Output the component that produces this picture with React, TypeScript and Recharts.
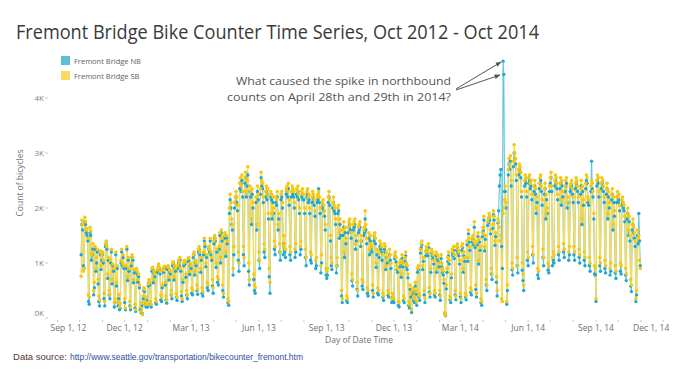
import { LineChart, Line, XAxis, YAxis } from "recharts";

// first day of each block of daily counts
const BLOCK_STARTS = [
  "2012-10-03", "2012-11-01", "2012-12-01", "2013-01-01", "2013-02-01", "2013-03-01",
  "2013-04-01", "2013-05-01", "2013-06-01", "2013-07-01", "2013-08-01", "2013-09-01",
  "2013-10-01", "2013-11-01", "2013-12-01", "2014-01-01", "2014-02-01", "2014-03-01",
  "2014-04-01", "2014-05-01", "2014-06-01", "2014-07-01", "2014-08-01", "2014-09-01",
  "2014-10-01",
];

// Fremont Bridge NB, daily counts
const NB_COUNTS: number[][] = [
  [1150, 1700, 1600, 950, 900, 1750, 1700, 1550, 1500, 1400, 300, 250, 1550, 1500, 1050, 1150, 1250, 420, 550, 1250, 850, 1000, 1200, 620, 300, 220, 1150, 880, 1050],
  [1150, 1000, 350, 220, 1300, 1350, 1250, 720, 1050, 420, 350, 1000, 1200, 620, 950, 850, 200, 280, 1150, 580, 900, 220, 350, 150, 180, 1000, 1200, 950, 1100, 900],
  [280, 150, 900, 1250, 680, 1050, 850, 220, 150, 950, 1100, 1050, 640, 820, 180, 120, 850, 800, 650, 750, 550, 150, 100, 220, 80, 350, 500, 480, 250, 200, 320],
  [200, 580, 650, 600, 250, 200, 850, 880, 640, 800, 750, 280, 250, 830, 860, 930, 880, 800, 330, 300, 550, 860, 830, 900, 600, 330, 270, 880, 900, 690, 840],
  [800, 420, 350, 950, 980, 690, 900, 850, 380, 320, 900, 1000, 950, 1050, 850, 400, 300, 650, 950, 1000, 980, 740, 420, 350, 1030, 1050, 790, 950],
  [900, 450, 420, 1100, 1150, 780, 1000, 950, 500, 430, 1200, 1250, 1150, 830, 1050, 450, 400, 1150, 1400, 1300, 930, 1100, 550, 500, 1250, 1200, 1400, 1150, 1050, 580, 450],
  [1350, 1450, 1400, 920, 1200, 650, 600, 1250, 1500, 1000, 1550, 1400, 500, 380, 1450, 1500, 1120, 1450, 1350, 280, 230, 1900, 2150, 2000, 1700, 1600, 780, 1150, 2000, 2100],
  [2200, 2100, 1950, 1050, 850, 2350, 2450, 2300, 2500, 2200, 1150, 950, 2450, 2550, 2200, 2400, 2600, 850, 600, 2300, 2200, 1700, 2250, 2000, 700, 500, 450, 2100, 1600, 2300, 2150],
  [1050, 900, 2250, 2550, 2400, 2350, 2100, 1200, 1100, 2200, 2300, 2150, 2250, 1800, 750, 450, 2200, 2150, 1800, 2100, 1900, 1250, 1150, 2100, 2050, 2200, 1600, 1800, 1200, 1050],
  [2150, 2200, 2000, 1150, 1350, 1200, 1100, 2250, 2300, 2200, 2350, 2050, 1150, 1050, 2200, 2300, 2250, 2200, 2000, 1100, 1200, 2250, 2200, 2300, 2150, 1900, 1150, 1250, 2200, 2250, 2150],
  [2150, 1900, 1100, 950, 2200, 2250, 2100, 2150, 1900, 1050, 1000, 2100, 2200, 2150, 2050, 1850, 900, 950, 2100, 2150, 2350, 2100, 1900, 820, 1000, 2000, 2050, 1950, 1850, 1600, 780],
  [720, 780, 2100, 2200, 2050, 1400, 950, 880, 2000, 2100, 1950, 1900, 1700, 820, 950, 1900, 1950, 1450, 1700, 1500, 400, 280, 1500, 1650, 1100, 1550, 1350, 320, 280, 1550],
  [1650, 1700, 1600, 1450, 680, 580, 1600, 1650, 1700, 1250, 1400, 520, 400, 1550, 1600, 1650, 1300, 1400, 580, 520, 1500, 1550, 1800, 1600, 1350, 450, 400, 1450, 1150, 1400, 1250],
  [1200, 500, 380, 1400, 1450, 1350, 920, 1150, 450, 420, 1100, 1300, 1250, 1200, 1050, 380, 320, 1250, 1200, 880, 1100, 1000, 420, 380, 1150, 1050, 900, 280, 380, 320],
  [280, 1080, 1120, 1020, 880, 830, 230, 200, 930, 980, 740, 1080, 930, 320, 280, 1030, 1130, 930, 880, 730, 230, 180, 520, 380, 100, 430, 480, 320, 280, 580, 430],
  [230, 830, 880, 380, 320, 1180, 1280, 1330, 880, 1030, 420, 280, 1130, 1230, 1180, 1130, 1280, 470, 380, 830, 1180, 1130, 1080, 980, 420, 380, 1130, 830, 1080, 1030, 930],
  [420, 320, 1080, 930, 830, 780, 630, 80, 40, 530, 830, 1030, 1130, 980, 330, 280, 730, 1180, 1130, 1230, 1080, 420, 330, 1230, 1280, 1180, 1130, 980],
  [380, 280, 1230, 1280, 830, 1130, 1030, 380, 330, 1330, 1030, 1530, 1380, 1230, 470, 420, 1380, 1430, 1330, 1650, 1280, 520, 380, 1330, 1480, 980, 1380, 1230, 280, 230, 1480],
  [1580, 1780, 1220, 1430, 600, 500, 1680, 1730, 1830, 1780, 1530, 800, 700, 1630, 1880, 1780, 1320, 1480, 650, 400, 1730, 1950, 2400, 2600, 2700, 1300, 900, 4670, 4430, 2300],
  [2300, 2000, 250, 500, 2600, 2800, 2700, 2850, 2400, 880, 780, 2750, 3000, 2900, 2800, 2500, 950, 820, 2600, 2700, 2650, 2550, 2200, 870, 680, 500, 2400, 2500, 2450, 2200, 1050],
  [950, 2450, 2500, 2350, 2400, 2150, 1150, 1000, 2300, 2400, 2250, 1900, 2100, 780, 720, 2350, 2450, 2500, 2300, 2050, 1100, 950, 2250, 2350, 1800, 2150, 1900, 870, 820, 2300],
  [2450, 2550, 2300, 950, 1050, 1000, 2400, 2500, 2450, 2350, 2150, 1150, 1050, 2350, 2450, 2050, 2400, 2200, 1200, 1100, 2300, 2400, 2450, 2000, 2100, 1050, 1150, 2300, 2350, 2400, 2250],
  [2100, 1150, 1050, 2350, 2450, 2400, 2300, 2100, 1100, 1000, 2250, 2400, 1700, 2300, 2050, 1050, 950, 2350, 2500, 2450, 2100, 2050, 950, 850, 2300, 2850, 2350, 2200, 1800, 800, 780],
  [300, 2400, 2500, 2450, 2200, 950, 850, 2350, 2450, 2400, 2300, 2100, 900, 820, 2250, 2350, 1800, 2200, 2000, 780, 850, 2150, 2250, 1600, 2100, 1850, 820, 720, 2100, 2200],
  [2100, 2150, 1950, 850, 800, 2050, 2100, 2000, 1950, 1750, 780, 680, 1800, 1900, 1500, 1750, 1400, 580, 480, 1600, 1700, 1550, 1450, 1300, 300, 420, 1500, 1350, 1900, 1400, 950],
];

// Fremont Bridge SB, daily counts
const SB_COUNTS: number[][] = [
  [760, 1780, 1700, 850, 900, 1830, 1750, 1600, 1620, 1450, 420, 380, 1650, 1580, 1150, 1200, 1350, 500, 650, 1300, 900, 1100, 1250, 700, 400, 330, 1220, 950, 1150],
  [1200, 1050, 450, 300, 1350, 1400, 1300, 800, 1100, 500, 420, 1050, 1250, 700, 980, 900, 280, 350, 1200, 650, 950, 300, 420, 200, 260, 1050, 1250, 1000, 1150, 950],
  [350, 180, 950, 1300, 750, 1100, 900, 300, 200, 1000, 1150, 1100, 700, 880, 250, 150, 900, 850, 700, 800, 600, 200, 120, 280, 60, 400, 550, 520, 300, 250, 380],
  [250, 620, 700, 650, 300, 250, 900, 920, 700, 850, 800, 350, 300, 880, 900, 980, 920, 850, 420, 380, 600, 900, 870, 940, 650, 400, 330, 930, 950, 750, 880],
  [850, 500, 420, 1000, 1020, 750, 950, 900, 450, 380, 950, 1050, 1000, 1100, 900, 480, 350, 700, 1000, 1050, 1020, 800, 500, 420, 1080, 1100, 850, 1000],
  [950, 550, 500, 1150, 1200, 850, 1050, 1000, 600, 520, 1250, 1300, 1200, 900, 1100, 550, 480, 1200, 1450, 1350, 1000, 1150, 650, 600, 1300, 1250, 1450, 1200, 1100, 700, 550],
  [1400, 1500, 1450, 1000, 1250, 750, 700, 1300, 1550, 1100, 1600, 1450, 600, 450, 1500, 1550, 1200, 1500, 1400, 350, 300, 2000, 2250, 2100, 1800, 1700, 900, 1300, 2100, 2200],
  [2300, 2200, 2050, 1200, 1000, 2450, 2550, 2400, 2600, 2300, 1300, 1100, 2550, 2650, 2300, 2500, 2750, 1000, 700, 2400, 2300, 1800, 2350, 2100, 800, 600, 550, 2200, 1700, 2400, 2250],
  [1200, 1050, 2350, 2650, 2500, 2450, 2200, 1350, 1250, 2300, 2400, 2250, 2350, 1900, 900, 650, 2300, 2250, 1900, 2200, 2000, 1400, 1300, 2200, 2150, 2300, 1700, 1900, 1350, 1200],
  [2250, 2300, 2100, 1300, 1500, 1350, 1250, 2350, 2400, 2300, 2450, 2150, 1300, 1200, 2300, 2400, 2350, 2300, 2100, 1250, 1350, 2350, 2300, 2400, 2250, 2000, 1300, 1400, 2300, 2350, 2250],
  [2250, 2000, 1250, 1100, 2300, 2350, 2200, 2250, 2000, 1200, 1150, 2200, 2300, 2250, 2150, 1950, 1050, 1100, 2200, 2250, 2300, 2200, 2000, 950, 1150, 2100, 2150, 2050, 1950, 1700, 900],
  [850, 900, 2200, 2300, 2150, 1500, 1100, 1000, 2100, 2200, 2050, 2000, 1800, 950, 1100, 2000, 2050, 1550, 1800, 1600, 500, 350, 1600, 1750, 1200, 1650, 1450, 400, 350, 1650],
  [1750, 1800, 1700, 1550, 800, 700, 1700, 1750, 1800, 1350, 1500, 650, 500, 1650, 1700, 1750, 1400, 1500, 700, 650, 1600, 1650, 1950, 1700, 1450, 550, 500, 1550, 1250, 1500, 1350],
  [1300, 600, 450, 1500, 1550, 1450, 1000, 1250, 550, 500, 1200, 1400, 1350, 1300, 1150, 450, 400, 1350, 1300, 950, 1200, 1100, 500, 450, 1250, 1150, 1000, 350, 450, 400],
  [350, 1150, 1200, 1100, 950, 900, 300, 280, 1000, 1050, 800, 1150, 1000, 400, 350, 1100, 1200, 1000, 950, 800, 300, 250, 600, 450, 150, 500, 550, 400, 350, 650, 500],
  [300, 900, 950, 450, 400, 1250, 1350, 1400, 950, 1100, 500, 350, 1200, 1300, 1250, 1200, 1350, 550, 450, 900, 1250, 1200, 1150, 1050, 500, 450, 1200, 900, 1150, 1100, 1000],
  [500, 400, 1150, 1000, 900, 850, 700, 100, 50, 600, 900, 1100, 1200, 1050, 400, 350, 800, 1250, 1200, 1300, 1150, 500, 400, 1300, 1350, 1250, 1200, 1050],
  [450, 350, 1300, 1350, 900, 1200, 1100, 450, 400, 1400, 1100, 1600, 1450, 1300, 550, 500, 1450, 1500, 1400, 1750, 1350, 600, 450, 1400, 1550, 1050, 1450, 1300, 350, 300, 1550],
  [1650, 1850, 1300, 1500, 700, 600, 1750, 1800, 1900, 1850, 1600, 900, 800, 1700, 1950, 1850, 1400, 1550, 750, 500, 1800, 1750, 1650, 1400, 1500, 350, 300, 1900, 2000, 2150],
  [2400, 2100, 300, 600, 2700, 2900, 2800, 2950, 2500, 1000, 900, 2850, 3150, 3000, 2900, 2600, 1100, 950, 2700, 2800, 2750, 2650, 2300, 1000, 800, 600, 2500, 2600, 2550, 2300, 1200],
  [1100, 2550, 2600, 2450, 2500, 2250, 1300, 1150, 2400, 2500, 2350, 2000, 2200, 900, 850, 2450, 2550, 2600, 2400, 2150, 1250, 1100, 2350, 2450, 1900, 2250, 2000, 1000, 950, 2400],
  [2550, 2650, 2400, 1100, 1200, 1150, 2500, 2600, 2550, 2450, 2250, 1300, 1200, 2450, 2550, 2150, 2500, 2300, 1350, 1250, 2400, 2500, 2550, 2100, 2200, 1200, 1300, 2400, 2450, 2500, 2350],
  [2200, 1300, 1200, 2450, 2550, 2500, 2400, 2200, 1250, 1150, 2350, 2500, 1800, 2400, 2150, 1200, 1100, 2450, 2600, 2550, 2200, 2150, 1100, 1000, 2400, 2500, 2450, 2300, 1900, 950, 900],
  [350, 2500, 2600, 2550, 2300, 1100, 1000, 2450, 2550, 2500, 2400, 2200, 1050, 950, 2350, 2450, 1900, 2300, 2100, 900, 1000, 2250, 2350, 1700, 2200, 1950, 950, 850, 2200, 2300],
  [2200, 2250, 2050, 1000, 950, 2150, 2200, 2100, 2050, 1850, 900, 800, 1900, 2000, 1600, 1850, 1500, 700, 600, 1700, 1800, 1650, 1550, 1400, 350, 500, 1600, 1450, 1500, 1050, 900],
];

// month marks on the date axis, labels on the quarters
const MONTH_TICKS = [
  "2012-09-01", "2012-10-01", "2012-11-01", "2012-12-01", "2013-01-01", "2013-02-01", "2013-03-01",
  "2013-04-01", "2013-05-01", "2013-06-01", "2013-07-01", "2013-08-01", "2013-09-01", "2013-10-01",
  "2013-11-01", "2013-12-01", "2014-01-01", "2014-02-01", "2014-03-01", "2014-04-01", "2014-05-01",
  "2014-06-01", "2014-07-01", "2014-08-01", "2014-09-01", "2014-10-01", "2014-11-01", "2014-12-01",
];
const QUARTER_TICKS = [
  "2012-09-01", "2012-12-01", "2013-03-01", "2013-06-01", "2013-09-01",
  "2013-12-01", "2014-03-01", "2014-06-01", "2014-09-01", "2014-12-01",
];
const QUARTER_LABELS = [
  "Sep 1, 12", "Dec 1, 12", "Mar 1, 13", "Jun 1, 13", "Sep 1, 13",
  "Dec 1, 13", "Mar 1, 14", "Jun 1, 14", "Sep 1, 14", "Dec 1, 14",
];
const Y_TICKS = [0, 1000, 2000, 3000, 4000];

const SERIES_NAMES = ["Fremont Bridge NB", "Fremont Bridge SB"];
const NB_COLOR = "#62c5de";
const NB_DOT = "#1fa8d3";
const SB_COLOR = "#f8da5c";
const SB_DOT = "#f5c814";
const LEGEND_COLORS = ["#5bbfd5", "#fcd965"];

const ORIGIN = Date.UTC(2012, 8, 1);
function dayIndex(s: string) {
  const [y, m, d] = s.split("-").map(Number);
  return Math.round((Date.UTC(y, m - 1, d) - ORIGIN) / 86400000);
}

const data: { day: number; nb: number; sb: number }[] = [];
BLOCK_STARTS.forEach((start, b) => {
  const base = dayIndex(start);
  NB_COUNTS[b].forEach((v, i) => {
    data.push({ day: base + i, nb: v, sb: SB_COUNTS[b][i] });
  });
});

const monthTicks = MONTH_TICKS.map(dayIndex);
const quarterDays = QUARTER_TICKS.map(dayIndex);

const axisFont = "'Open Sans', 'Noto Sans', sans-serif";

function DateTick(props: any) {
  const { x, y, payload } = props;
  const q = quarterDays.indexOf(payload.value);
  let dx = 0;
  if (q === 0) dx = 11;
  if (q === quarterDays.length - 1) dx = -12;
  return (
    <g>
      <line x1={x} x2={x} y1={y} y2={y + 2} stroke="#c8c8c8" strokeWidth={1} />
      {q >= 0 && (
        <text x={x + dx} y={y + 11} textAnchor="middle" fontSize={8.5} fill="#707070" fontFamily={axisFont}>
          {QUARTER_LABELS[q]}
        </text>
      )}
    </g>
  );
}

function CountTick(props: any) {
  const { x, y, payload } = props;
  const dy = payload.value === 0 ? -5 : 0;
  return (
    <g>
      <line x1={x - 3} x2={x} y1={y} y2={y} stroke="#c8c8c8" strokeWidth={1} />
      <text x={x - 4} y={y + dy + 3} textAnchor="end" fontSize={8} fill="#808080" fontFamily={axisFont}>
        {`${payload.value / 1000}K`}
      </text>
    </g>
  );
}

export default function App() {
  return (
    <div style={{ position: "absolute", left: 0, top: 0, width: 689, height: 373, background: "#fff" }}>
      <LineChart width={689} height={373} data={data} margin={{ top: 54, right: 17, bottom: 25, left: 0 }}>
        <XAxis
          dataKey="day"
          type="number"
          domain={[-10.2, 833]}
          allowDataOverflow
          ticks={monthTicks}
          interval={0}
          tick={<DateTick />}
          tickLine={false}
          axisLine={false}
          tickSize={0}
          height={30}
        />
        <YAxis
          type="number"
          domain={[0, 4800]}
          ticks={Y_TICKS}
          tick={<CountTick />}
          tickLine={false}
          axisLine={false}
          tickSize={0}
          width={50}
        />
        <Line
          type="linear"
          dataKey="nb"
          name={SERIES_NAMES[0]}
          stroke={NB_COLOR}
          strokeWidth={1.1}
          dot={{ r: 1.7, fill: NB_DOT, stroke: "none" }}
          activeDot={false}
          isAnimationActive={false}
        />
        <Line
          type="linear"
          dataKey="sb"
          name={SERIES_NAMES[1]}
          stroke={SB_COLOR}
          strokeWidth={1.2}
          dot={{ r: 1.8, fill: SB_DOT, stroke: "none" }}
          activeDot={false}
          isAnimationActive={false}
        />
      </LineChart>

      <svg width={689} height={373} style={{ position: "absolute", left: 0, top: 0, pointerEvents: "none" }}>
        <defs>
          <marker id="arrow" viewBox="0 0 10 10" refX="9" refY="5" markerWidth="6" markerHeight="6" orient="auto">
            <path d="M0,1 L10,5 L0,9 z" fill="#555" />
          </marker>
        </defs>
        <text x={16} y={39} fontSize={19.5} fill="#3a3a3a" fontFamily={axisFont} textLength={523} lengthAdjust="spacingAndGlyphs">
          Fremont Bridge Bike Counter Time Series, Oct 2012 - Oct 2014
        </text>

        {SERIES_NAMES.map((name, i) => (
          <g key={name}>
            <rect x={61} y={56 + i * 15} width={9} height={9} fill={LEGEND_COLORS[i]} />
            <text x={74} y={63.5 + i * 15} fontSize={7.5} fill="#606060" fontFamily={axisFont}>
              {name}
            </text>
          </g>
        ))}

        <text x={451} y={85} textAnchor="end" fontSize={11.5} fill="#555" fontFamily={axisFont} textLength={215} lengthAdjust="spacingAndGlyphs">
          What caused the spike in northbound
        </text>
        <text x={451} y={101} textAnchor="end" fontSize={11.5} fill="#555" fontFamily={axisFont} textLength={224} lengthAdjust="spacingAndGlyphs">
          counts on April 28th and 29th in 2014?
        </text>
        <line x1={456} y1={89} x2={501} y2={62} stroke="#555" strokeWidth={1} markerEnd="url(#arrow)" />
        <line x1={456} y1={90} x2={500} y2={75} stroke="#555" strokeWidth={1} markerEnd="url(#arrow)" />

        <text
          x={23}
          y={183}
          transform="rotate(-90 23 183)"
          textAnchor="middle"
          fontSize={8.5}
          fill="#707070"
          fontFamily={axisFont}
        >
          Count of bicycles
        </text>
        <text x={359} y={343} textAnchor="middle" fontSize={8.5} fill="#707070" fontFamily={axisFont}>
          Day of Date Time
        </text>

        <text x={13} y={360} fontSize={9} fill="#5a3838" fontFamily="'Liberation Sans', Arial, sans-serif" textLength={54} lengthAdjust="spacingAndGlyphs">
          Data source:
        </text>
        <text x={70} y={360} fontSize={9} fill="#2f4f9f" fontFamily="'Liberation Sans', Arial, sans-serif" textLength={233} lengthAdjust="spacingAndGlyphs">
          http://www.seattle.gov/transportation/bikecounter_fremont.htm
        </text>
      </svg>
    </div>
  );
}
